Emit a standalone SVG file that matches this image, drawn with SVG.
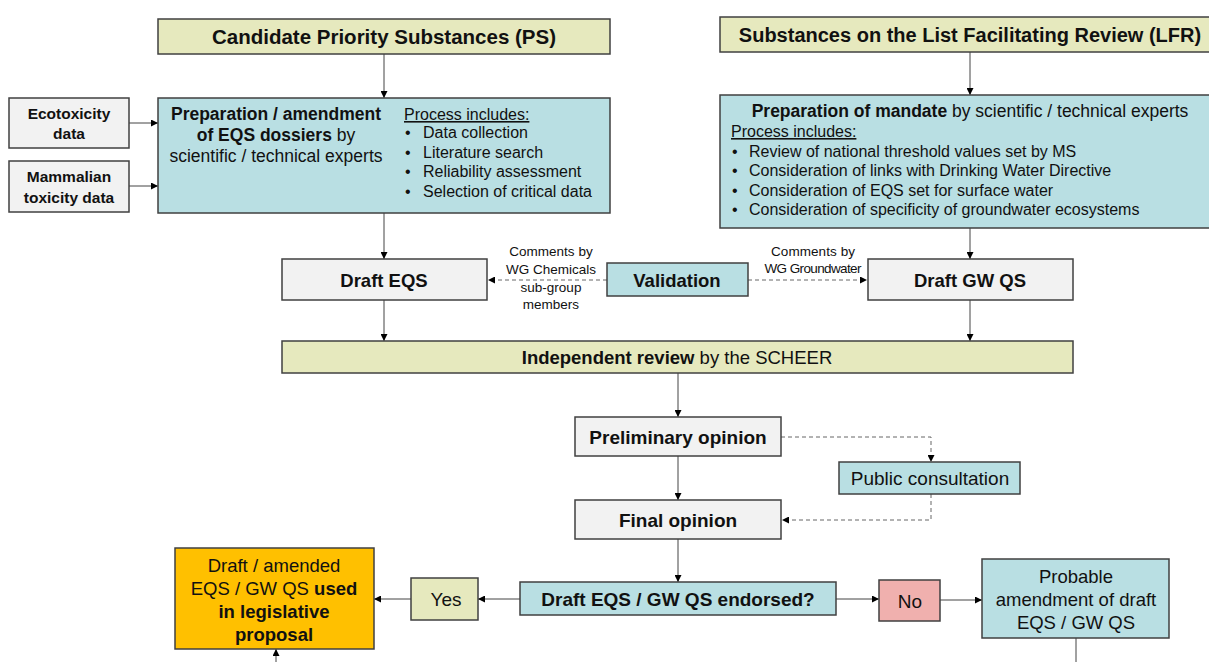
<svg xmlns="http://www.w3.org/2000/svg" width="1209" height="662" viewBox="0 0 1209 662">
<defs>
<marker id="ah" viewBox="0 0 10 10" refX="10" refY="5" markerWidth="7" markerHeight="7" orient="auto" markerUnits="userSpaceOnUse"><path d="M0,0 L10,5 L0,10 z" fill="#000"/></marker>
<style>
.box{stroke:#404040;stroke-width:1.5}
.olive{fill:#E6E9BE}
.teal{fill:#B9DFE3}
.gray{fill:#F2F2F2}
.orange{fill:#FFC000}
.pink{fill:#F0B0AE}
text{font-family:"Liberation Sans",Arial,sans-serif;fill:#111}
.b{font-weight:bold}
.c{text-anchor:middle}
.ln{stroke:#444;stroke-width:1;fill:none;marker-end:url(#ah)}
.dash{stroke:#666;stroke-width:1;stroke-dasharray:4,3;fill:none;marker-end:url(#ah)}
</style>
</defs>
<rect width="1209" height="662" fill="#fff"/>

<g id="connectors">
<path class="ln" d="M384,54 V98"/>
<path class="ln" d="M970,52 V95"/>
<path class="ln" d="M129,123 H158"/>
<path class="ln" d="M129,186 H158"/>
<path class="ln" d="M384,213 V259"/>
<path class="ln" d="M970,228 V259"/>
<path class="dash" d="M607,280 H488"/>
<path class="dash" d="M748,280 H867"/>
<path class="ln" d="M384,300 V341"/>
<path class="ln" d="M970,300 V341"/>
<path class="ln" d="M678,373 V417"/>
<path class="dash" d="M781,437 H931 V462"/>
<path class="dash" d="M931,494 V520 H782"/>
<path class="ln" d="M678,456 V500"/>
<path class="ln" d="M678,539 V582"/>
<path class="ln" d="M520,599 H478"/>
<path class="ln" d="M411,599 H374"/>
<path class="ln" d="M836,599 H879"/>
<path class="ln" d="M940,600 H982"/>
<path class="ln" d="M276,662 V649"/>
<path d="M1076,638 V662" stroke="#444" stroke-width="1"/>
<text class="c" x="551" y="256" font-size="13.5">Comments by</text>
<text class="c" x="551" y="274" font-size="13.5">WG Chemicals</text>
<text class="c" x="551" y="292" font-size="13.5">sub-group</text>
<text class="c" x="551" y="309" font-size="13.5">members</text>
<text class="c" x="813" y="256" font-size="13.5" textLength="84">Comments by</text>
<text class="c" x="813" y="273" font-size="13.5" textLength="97">WG Groundwater</text>
</g>

<g id="candidate-ps">
<rect class="box olive" x="158" y="19" width="452" height="35"/>
<text class="c b" x="384" y="44" font-size="20.5">Candidate Priority Substances (PS)</text>
</g>

<g id="lfr">
<rect class="box olive" x="720" y="17" width="495" height="35"/>
<text class="c b" x="970" y="42" font-size="20">Substances on the List Facilitating Review (LFR)</text>
</g>

<g id="ecotoxicity">
<rect class="box gray" x="9" y="98" width="120" height="50"/>
<text class="c b" x="69" y="119" font-size="15.5">Ecotoxicity</text>
<text class="c b" x="69" y="139" font-size="15.5">data</text>
</g>

<g id="mammalian">
<rect class="box gray" x="9" y="161" width="120" height="51"/>
<text class="c b" x="69" y="182" font-size="15.5">Mammalian</text>
<text class="c b" x="69" y="203" font-size="15.5">toxicity data</text>
</g>

<g id="prep-eqs">
<rect class="box teal" x="158" y="98" width="452" height="115"/>
<text class="c b" x="276" y="120" font-size="17.5">Preparation / amendment</text>
<text class="c" x="276" y="141" font-size="17.5"><tspan font-weight="bold">of EQS dossiers</tspan> by</text>
<text class="c" x="276" y="162" font-size="17.5">scientific / technical experts</text>
<text x="404" y="120" font-size="16" text-decoration="underline">Process includes:</text>
<text x="405" y="138" font-size="16">•</text><text x="423" y="138" font-size="16">Data collection</text>
<text x="405" y="158" font-size="16">•</text><text x="423" y="158" font-size="16">Literature search</text>
<text x="405" y="177" font-size="16">•</text><text x="423" y="177" font-size="16">Reliability assessment</text>
<text x="405" y="197" font-size="16">•</text><text x="423" y="197" font-size="16">Selection of critical data</text>
</g>

<g id="prep-mandate">
<rect class="box teal" x="720" y="95" width="495" height="133"/>
<text class="c" x="970" y="117" font-size="17.5"><tspan font-weight="bold">Preparation of mandate</tspan> by scientific / technical experts</text>
<text x="731" y="137" font-size="16" text-decoration="underline">Process includes:</text>
<text x="732" y="157" font-size="16">•</text><text x="749" y="157" font-size="16">Review of national threshold values set by MS</text>
<text x="732" y="176" font-size="16">•</text><text x="749" y="176" font-size="16">Consideration of links with Drinking Water Directive</text>
<text x="732" y="196" font-size="16">•</text><text x="749" y="196" font-size="16">Consideration of EQS set for surface water</text>
<text x="732" y="215" font-size="16">•</text><text x="749" y="215" font-size="16">Consideration of specificity of groundwater ecosystems</text>
</g>

<g id="draft-eqs">
<rect class="box gray" x="282" y="259" width="205" height="41"/>
<text class="c b" x="384" y="287" font-size="18.5">Draft EQS</text>
</g>

<g id="validation">
<rect class="box teal" x="607" y="263" width="141" height="33"/>
<text class="c b" x="677" y="287" font-size="18.5">Validation</text>
</g>

<g id="draft-gwqs">
<rect class="box gray" x="868" y="259" width="205" height="41"/>
<text class="c b" x="970" y="287" font-size="18.5">Draft GW QS</text>
</g>

<g id="independent-review">
<rect class="box olive" x="282" y="341" width="791" height="32"/>
<text class="c" x="677" y="364" font-size="18.5"><tspan font-weight="bold">Independent review</tspan> by the SCHEER</text>
</g>

<g id="preliminary-opinion">
<rect class="box gray" x="575" y="417" width="206" height="39"/>
<text class="c b" x="678" y="444" font-size="19">Preliminary opinion</text>
</g>

<g id="public-consultation">
<rect class="box teal" x="839" y="462" width="181" height="32"/>
<text class="c" x="930" y="485" font-size="19">Public consultation</text>
</g>

<g id="final-opinion">
<rect class="box gray" x="575" y="500" width="206" height="39"/>
<text class="c b" x="678" y="527" font-size="19">Final opinion</text>
</g>

<g id="endorsed">
<rect class="box teal" x="520" y="582" width="316" height="33"/>
<text class="c b" x="678" y="606" font-size="19">Draft EQS / GW QS endorsed?</text>
</g>

<g id="yes">
<rect class="box olive" x="411" y="578" width="67" height="42"/>
<text class="c" x="446" y="606" font-size="19">Yes</text>
</g>

<g id="no">
<rect class="box pink" x="879" y="580" width="61" height="41"/>
<text class="c" x="910" y="608" font-size="19">No</text>
</g>

<g id="legislative">
<rect class="box orange" x="175" y="548" width="199" height="101"/>
<text class="c" x="274" y="572" font-size="18.5">Draft / amended</text>
<text class="c" x="274" y="595" font-size="18.5">EQS / GW QS <tspan font-weight="bold">used</tspan></text>
<text class="c b" x="274" y="618" font-size="18.5">in legislative</text>
<text class="c b" x="274" y="641" font-size="18.5">proposal</text>
</g>

<g id="amendment">
<rect class="box teal" x="982" y="559" width="187" height="79"/>
<text class="c" x="1076" y="583" font-size="18.5">Probable</text>
<text class="c" x="1076" y="606" font-size="18.5">amendment of draft</text>
<text class="c" x="1076" y="629" font-size="18.5">EQS / GW QS</text>
</g>
</svg>
